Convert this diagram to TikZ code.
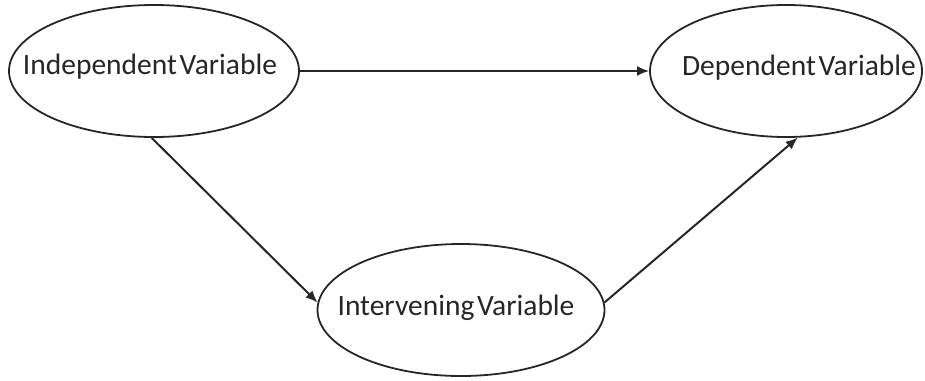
\documentclass[tikz,border=0pt]{standalone}
\usepackage{fontspec}
\setmainfont{Carlito}
\usetikzlibrary{shapes.geometric,arrows.meta}
\definecolor{ink}{HTML}{262626}
\tikzset{
  varell/.style={draw=ink, line width=1.8pt, ellipse, inner sep=0pt},
  vartext/.style={anchor=base, inner sep=0pt, text=ink, font=\fontsize{29.5}{32}\selectfont},
  conn/.style={draw=ink, line width=2pt, -{Latex[length=12pt,width=10pt]}}
}
\begin{document}
\begin{tikzpicture}[x=1pt,y=-1pt]
\useasboundingbox (0,0) rectangle (925,380);
\node[varell, minimum width=290pt, minimum height=132pt] (iv) at (154,71) {};
\node[varell, minimum width=272pt, minimum height=132pt] (dv) at (786,71) {};
\node[varell, minimum width=287pt, minimum height=132pt] (nv) at (461,310) {};
\node[vartext] (ivt) at (150,74) {Independent\hspace{-4pt} Variable};
\node[vartext] (dvt) at (799,75) {Dependent\hspace{-4pt} Variable};
\node[vartext] (nvt) at (456,315) {Intervening\hspace{-4pt} Variable};
\draw[conn] (iv.east) -- (dv.west);
\draw[conn] (iv.268) -- (nv.177);
\draw[conn] (nv.3) -- (dv.280);
\end{tikzpicture}
\end{document}
